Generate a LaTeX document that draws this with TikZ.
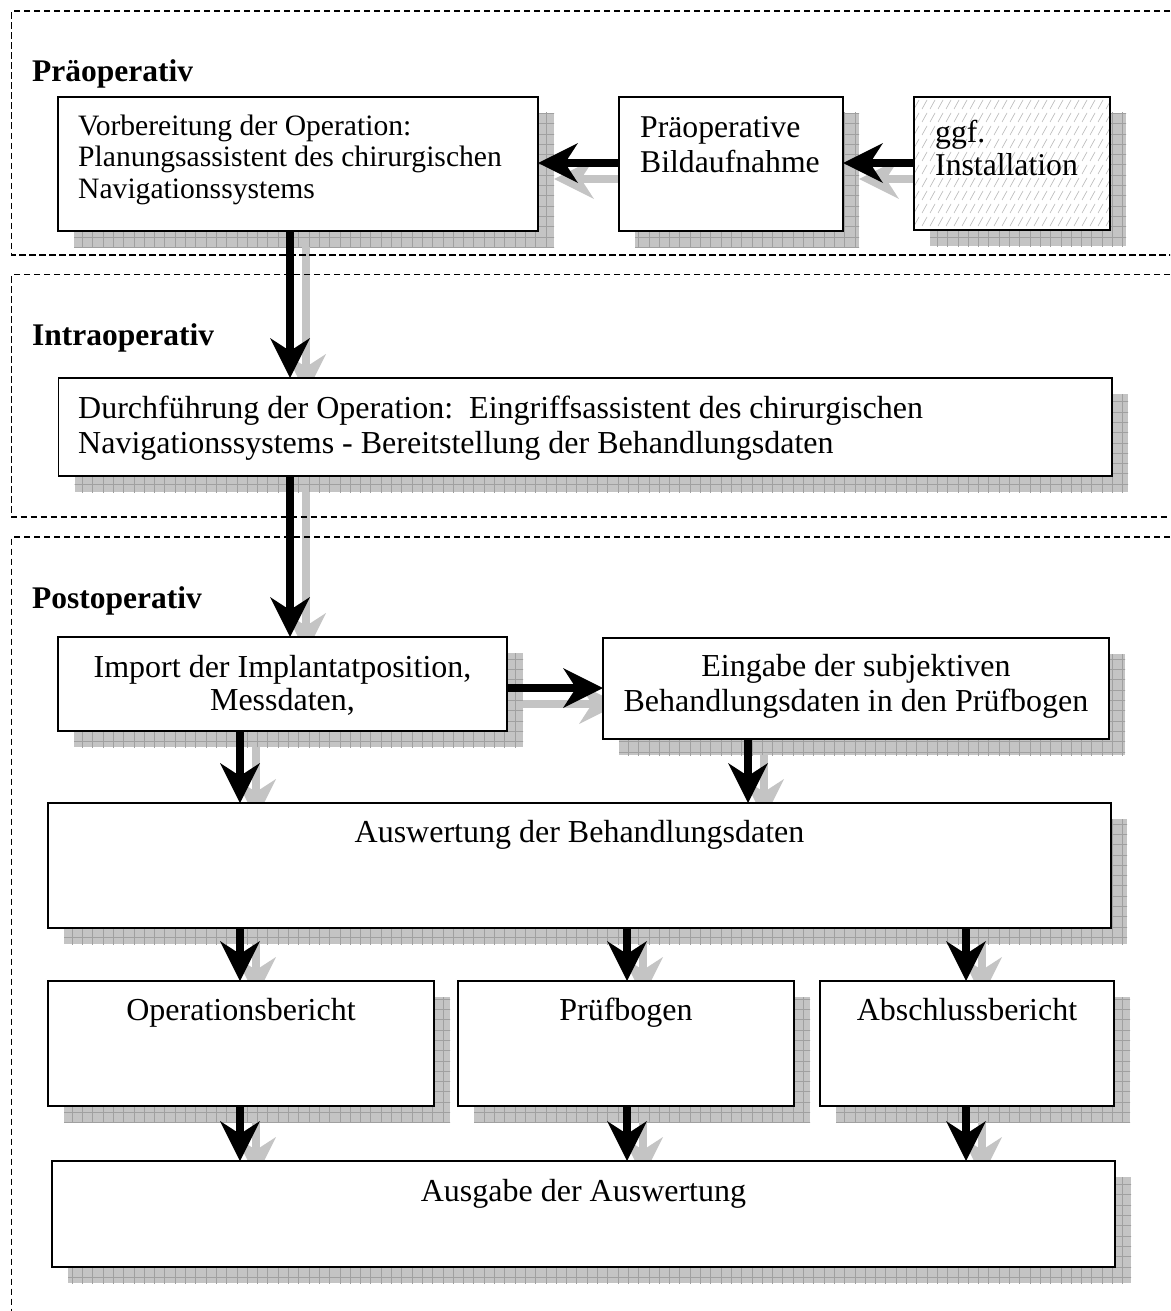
\documentclass[tikz,border=0pt]{standalone}
\usepackage{fontspec}
\setmainfont{Liberation Serif}
\usetikzlibrary{arrows.meta,calc}
\pgfdeclarelayer{back}
\pgfsetlayers{back,main}
\definecolor{shadefill}{HTML}{C4C4C4}
\definecolor{shadegrid}{HTML}{A0A0A0}
\definecolor{hatchgray}{HTML}{B8B8B8}

\tikzset{
  region/.style={line width=1.5pt, dash pattern=on 6.5pt off 3.5pt},
  phase/.style={font=\fontsize{31.5}{36}\selectfont\bfseries, inner sep=0pt, anchor=base west},
  box/.style={draw=black, line width=1.5pt, fill=white, inner sep=0pt, outer sep=0pt, anchor=north west},
  boxshade/.style={fill=shadefill, path picture={
      \draw[shadegrid, line width=0.7pt]
        ([shift={(-12pt,-12pt)}]path picture bounding box.south west) grid[step=10.3pt]
        ([shift={(12pt,12pt)}]path picture bounding box.north east);}},
  hatched/.style={path picture={
      \foreach \r in {0,...,11} \foreach \c in {-2,...,26}
        \draw[hatchgray, line width=0.6pt]
          ([shift={(\c*8pt,-\r*13pt-12pt)}]path picture bounding box.north west) -- ++(5pt,9pt);}},
  body/.style={font=\fontsize{32}{#1}\selectfont, inner sep=0pt},
  body/.default=35,
  small/.style={font=\fontsize{29.6}{#1}\selectfont, inner sep=0pt},
  small/.default=31,
  large/.style={font=\fontsize{31.7}{#1}\selectfont, inner sep=0pt},
  large/.default=35,
  tip/.style={-{Stealth[length=40pt,width=40pt,inset=13pt,line width=0pt]}, line width=7.5pt},
  flowarrow/.style={tip, draw=black},
  flowshade/.style={tip, draw=shadefill},
}

% a framed box with its offset grid shadow: [options]{name}{x1}{y1}{x2}{y2}
\newcommand\panel[6][]{%
  \node[box,#1,minimum width={(#5-#3)*1pt},minimum height={(#6-#4)*1pt}] (#2) at (#3,#4) {};
  \begin{pgfonlayer}{back}
    \path[boxshade] ($(#2.north west)+(16,16)$) rectangle ($(#2.south east)+(16,16)$);
  \end{pgfonlayer}}

% a thick arrow with its grey shadow copy
\newcommand\flow[2]{%
  \begin{pgfonlayer}{back}
    \draw[flowshade] ($(#1)+(16,16)$) -- ($(#2)+(16,16)$);
  \end{pgfonlayer}
  \draw[flowarrow] (#1) -- (#2);}

\begin{document}
\begin{tikzpicture}[x=1pt,y=-1pt]
  \useasboundingbox (0,0) rectangle (1170,1311);
  \begin{pgfonlayer}{back}
    \fill[white] (0,0) rectangle (1170,1311);
  \end{pgfonlayer}
  \clip (0,0) rectangle (1170,1311);

  % phase areas
  \draw[region] (1180,11) -- (11.5,11) -- (11.5,255) -- (1180,255);
  \draw[region] (1180,274.5) -- (11.5,274.5) -- (11.5,517) -- (1180,517);
  \draw[region] (1180,537) -- (11.5,537) -- (11.5,1330);

  \node[phase] (lpre) at (32,82) {Präoperativ};
  \node[phase] (lintra) at (32,345.5) {Intraoperativ};
  \node[phase] (lpost) at (32,608) {Postoperativ};

  % boxes
  \panel{prep}{58}{97}{538}{231}
  \panel{bild}{619}{97}{843}{231}
  \panel[hatched]{inst}{914}{97}{1110}{230}
  \panel{durch}{58.7}{378}{1112}{476}
  \panel{import}{58}{637}{507}{731}
  \panel{eingabe}{603}{638}{1109}{739}
  \panel{ausw}{48}{803}{1111}{928}
  \panel{opber}{48}{981}{434}{1106}
  \panel{pruef}{458}{981}{794}{1106}
  \panel{absch}{820}{981}{1114}{1106}
  \panel{ausg}{52}{1161}{1115}{1267}

  % texts
  \node[small=31.5, anchor=north west, align=left] (prep-t) at (78,113)
    {\strut Vorbereitung der Operation:\\Planungsassistent des chirurgischen\\Navigationssystems};
  \node[large=35, anchor=north west, align=left] (bild-t) at (640,112.5)
    {\strut Präoperative\\Bildaufnahme};
  \node[large=31, anchor=north west, align=left] (inst-t) at (935,120.3)
    {\strut ggf.\\Installation};
  \node[body=35, anchor=north west, align=left] (durch-t) at (78,393.5)
    {\strut Durchführung der Operation:\ \ Eingriffsassistent des chirurgischen\\Navigationssystems - Bereitstellung der Behandlungsdaten};
  \node[body=33.5, anchor=north, align=center] (import-t) at (282.5,653.5)
    {\strut Import der Implantatposition,\\Messdaten,};
  \node[body=35, anchor=north, align=center] (eingabe-t) at (856,651.5)
    {\strut Eingabe der subjektiven\\Behandlungsdaten in den Prüfbogen};
  \node[body, anchor=base] (ausw-t) at (579.5,842) {Auswertung der Behandlungsdaten};
  \node[body, anchor=base] (opber-t) at (241,1020) {Operationsbericht};
  \node[body, anchor=base] (pruef-t) at (626,1020) {Prüfbogen};
  \node[body, anchor=base] (absch-t) at (967,1020) {Abschlussbericht};
  \node[body, anchor=base] (ausg-t) at (583.5,1201) {Ausgabe der Auswertung};

  % connectors
  \flow{inst.west |- 0,163}{bild.east |- 0,163}
  \flow{bild.west |- 0,163}{prep.east |- 0,163}
  \flow{prep.south -| 290,0}{durch.north -| 290,0}
  \flow{durch.south -| 290,0}{import.north -| 290,0}
  \flow{import.east |- 0,688}{eingabe.west |- 0,688}
  \flow{import.south -| 240,0}{ausw.north -| 240,0}
  \flow{eingabe.south -| 748,0}{ausw.north -| 748,0}
  \flow{ausw.south -| 240,0}{opber.north -| 240,0}
  \flow{ausw.south -| 627,0}{pruef.north -| 627,0}
  \flow{ausw.south -| 966,0}{absch.north -| 966,0}
  \flow{opber.south -| 240,0}{ausg.north -| 240,0}
  \flow{pruef.south -| 627,0}{ausg.north -| 627,0}
  \flow{absch.south -| 966,0}{ausg.north -| 966,0}
\end{tikzpicture}
\end{document}
